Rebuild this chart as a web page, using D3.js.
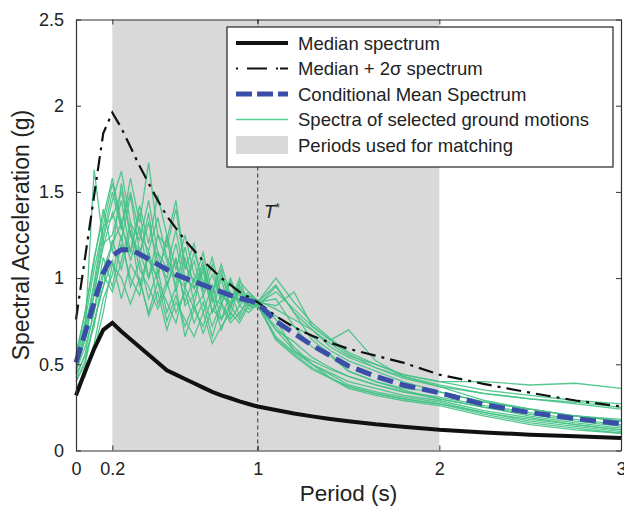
<!DOCTYPE html>
<html>
<head>
<meta charset="utf-8">
<script src="https://cdn.jsdelivr.net/npm/d3@7"></script>
<style>
  body { margin: 0; background: #fff; }
  svg text { font-family: "Liberation Sans", Arial, Helvetica, sans-serif; fill: #222; }
</style>
</head>
<body>
<div id="chart"></div>
<script>
// periods (s) shared by every curve
var periods = [0, 0.05, 0.1, 0.15, 0.2, 0.25, 0.3, 0.35, 0.4, 0.45, 0.5, 0.55, 0.6, 0.65, 0.7, 0.75,
               0.8, 0.85, 0.9, 0.95, 1.0, 1.1, 1.2, 1.3, 1.4, 1.5, 1.65, 1.8, 2.0, 2.25, 2.5, 2.75, 3.0];

var median = [0.32, 0.46, 0.59, 0.70, 0.74, 0.69, 0.645, 0.60, 0.555, 0.51, 0.465, 0.44, 0.415, 0.39, 0.365, 0.34,
              0.32, 0.303, 0.285, 0.27, 0.255, 0.235, 0.215, 0.198, 0.183, 0.17, 0.152, 0.138, 0.12, 0.105, 0.092, 0.082, 0.073];

var median2s = [0.76, 1.12, 1.48, 1.84, 1.96, 1.87, 1.76, 1.65, 1.55, 1.45, 1.36, 1.29, 1.22, 1.16, 1.10, 1.05,
                1.00, 0.96, 0.92, 0.89, 0.86, 0.78, 0.715, 0.665, 0.625, 0.59, 0.55, 0.51, 0.44, 0.385, 0.335, 0.29, 0.255];

var cms = [0.51, 0.68, 0.86, 1.03, 1.13, 1.165, 1.165, 1.14, 1.11, 1.08, 1.05, 1.02, 1.00, 0.98, 0.96, 0.94,
           0.92, 0.90, 0.885, 0.87, 0.855, 0.75, 0.68, 0.61, 0.55, 0.49, 0.43, 0.38, 0.335, 0.265, 0.22, 0.185, 0.155];

// spectra of the selected ground motions
var records = [
  [0.45,0.70,1.63,1.20,1.25,1.45,1.15,1.38,1.10,1.00,1.25,0.92,1.12,0.85,1.08,0.80,1.00,0.78,0.96,0.86,0.86,0.88,0.72,0.60,0.55,0.46,0.40,0.36,0.34,0.28,0.24,0.20,0.18],
  [0.52,0.72,0.95,1.25,1.50,1.28,1.58,1.32,1.67,1.25,1.18,1.40,1.05,1.20,0.92,1.08,0.85,0.98,0.90,0.82,0.85,0.70,0.63,0.54,0.48,0.43,0.38,0.34,0.31,0.26,0.22,0.18,0.15],
  [0.40,0.52,0.75,0.95,1.10,0.88,1.08,0.98,0.80,0.98,0.75,0.90,0.72,0.85,0.68,0.82,0.76,0.92,0.78,0.90,0.84,0.95,0.80,0.70,0.62,0.55,0.50,0.44,0.40,0.35,0.32,0.29,0.27],
  [0.55,0.80,1.10,1.40,1.15,1.55,1.25,1.12,1.38,1.02,1.22,1.45,1.08,0.98,1.15,0.90,1.05,0.82,0.98,0.92,0.87,0.76,0.58,0.50,0.45,0.40,0.36,0.32,0.29,0.23,0.19,0.15,0.12],
  [0.36,0.45,0.62,0.88,1.02,1.25,0.95,1.10,0.88,1.05,0.80,0.95,0.66,0.82,0.90,0.72,0.86,0.76,0.84,0.80,0.85,0.66,0.57,0.50,0.44,0.38,0.34,0.31,0.28,0.22,0.17,0.14,0.11],
  [0.48,0.66,0.92,1.18,1.38,1.22,1.48,1.15,1.32,1.10,1.00,1.20,0.95,1.10,0.90,1.02,0.88,1.00,0.86,0.92,0.86,1.00,0.86,0.74,0.65,0.57,0.50,0.44,0.40,0.40,0.38,0.39,0.36],
  [0.42,0.56,0.82,1.12,0.95,1.20,1.00,0.90,1.15,0.85,0.98,0.80,0.92,0.74,0.86,0.66,0.84,0.74,0.80,0.87,0.84,0.65,0.56,0.48,0.42,0.37,0.33,0.30,0.27,0.21,0.16,0.13,0.10],
  [0.50,0.68,0.98,1.30,1.55,1.30,1.15,1.42,1.20,1.48,1.25,1.05,1.25,1.02,0.96,1.12,0.90,0.86,1.00,0.84,0.86,0.84,0.92,0.72,0.64,0.70,0.52,0.43,0.37,0.29,0.24,0.20,0.17],
  [0.35,0.43,0.58,0.80,1.08,1.00,0.85,1.00,0.78,0.92,0.70,0.86,0.76,0.66,0.80,0.62,0.72,0.80,0.74,0.84,0.83,0.72,0.60,0.50,0.42,0.36,0.32,0.29,0.26,0.20,0.15,0.12,0.10],
  [0.53,0.75,1.05,1.30,1.35,1.50,1.25,1.15,1.00,1.25,1.10,0.96,1.18,0.94,1.06,0.88,0.85,0.98,0.84,0.90,0.85,0.92,0.82,0.72,0.64,0.56,0.48,0.42,0.37,0.33,0.30,0.27,0.24],
  [0.44,0.55,0.72,1.02,0.92,1.10,1.32,1.05,0.95,0.82,0.95,1.10,0.86,1.00,0.80,0.96,0.76,0.85,0.92,0.84,0.86,0.78,0.72,0.66,0.58,0.52,0.46,0.40,0.34,0.28,0.24,0.20,0.17],
  [0.47,0.64,0.90,1.22,1.45,1.62,1.32,1.22,1.45,1.15,1.06,1.28,1.00,0.94,1.10,0.86,1.02,0.90,0.86,0.88,0.86,0.96,0.80,0.64,0.56,0.46,0.40,0.35,0.30,0.25,0.21,0.17,0.14],
  [0.40,0.50,0.75,0.95,1.22,1.05,1.28,0.95,1.15,0.98,0.86,0.74,0.95,0.82,0.72,0.90,0.70,0.84,0.76,0.86,0.85,0.70,0.58,0.52,0.47,0.43,0.38,0.34,0.30,0.25,0.20,0.16,0.13],
  [0.56,0.80,1.12,1.35,1.58,1.32,1.50,1.25,1.16,1.35,1.12,1.00,0.95,1.15,0.98,0.92,1.08,0.90,0.88,0.90,0.87,0.82,0.76,0.70,0.60,0.54,0.48,0.43,0.38,0.33,0.30,0.28,0.25],
  [0.46,0.60,0.80,1.05,1.20,1.32,1.10,1.30,1.00,1.15,0.96,1.12,0.84,0.90,1.04,0.80,0.90,0.84,0.94,0.84,0.85,0.64,0.55,0.47,0.42,0.37,0.33,0.30,0.27,0.22,0.18,0.15,0.12]
];

var matchRange = [0.2, 2];   // periods used for matching
var tStar = 1;
var xTicks = [0, 0.2, 1, 2, 3];
var yTicks = [0, 0.5, 1, 1.5, 2, 2.5];
var legendLabels = ["Median spectrum", "Median + 2\u03c3 spectrum", "Conditional Mean Spectrum",
                    "Spectra of selected ground motions", "Periods used for matching"];

var W = 624, H = 507;
var margin = {top: 19.5, right: 3, bottom: 56.5, left: 76};
var w = W - margin.left - margin.right;
var h = H - margin.top - margin.bottom;

var svg = d3.select("#chart").append("svg")
    .attr("width", W).attr("height", H);

var g = svg.append("g")
    .attr("transform", "translate(" + margin.left + "," + margin.top + ")");

var x = d3.scaleLinear().domain([0, 3]).range([0, w]);
var y = d3.scaleLinear().domain([0, 2.5]).range([h, 0]);

// grey band for the matching periods
g.append("rect")
    .attr("x", x(matchRange[0])).attr("y", 0)
    .attr("width", x(matchRange[1]) - x(matchRange[0]))
    .attr("height", h)
    .attr("fill", "#d9d9d9");

// T* marker
g.append("line")
    .attr("x1", x(tStar)).attr("x2", x(tStar))
    .attr("y1", 0).attr("y2", h)
    .attr("stroke", "#555").attr("stroke-width", 1.3)
    .attr("stroke-dasharray", "4,3");

var tl = g.append("text")
    .attr("x", x(tStar) + 6).attr("y", y(1.35))
    .attr("font-size", 19).attr("font-style", "italic");
tl.append("tspan").text("T");
tl.append("tspan").attr("dy", -6).attr("font-size", 12).attr("font-style", "normal").text("*");

var line = d3.line()
    .x(function(d, i) { return x(periods[i]); })
    .y(function(d) { return y(d); });

g.selectAll(".rec")
    .data(records)
    .enter()
    .append("path")
    .attr("class", "rec")
    .attr("d", line)
    .attr("fill", "none")
    .attr("stroke", "#44c285")
    .attr("stroke-opacity", 0.9)
    .attr("stroke-width", 1.3);

g.append("path").datum(median)
    .attr("d", line).attr("fill", "none")
    .attr("stroke", "#111").attr("stroke-width", 4);

g.append("path").datum(median2s)
    .attr("d", line).attr("fill", "none")
    .attr("stroke", "#111").attr("stroke-width", 2.2)
    .attr("stroke-dasharray", "15,6,3,6");

g.append("path").datum(cms)
    .attr("d", line).attr("fill", "none")
    .attr("stroke", "#3a4ea8").attr("stroke-width", 5)
    .attr("stroke-dasharray", "16,7");

// axes, MATLAB style box with inward ticks
var fmt = function(d) { return d3.format("")(d); };
g.append("g").attr("transform", "translate(0," + h + ")")
    .call(d3.axisBottom(x).tickValues(xTicks).tickSizeInner(-5).tickSizeOuter(0).tickPadding(12).tickFormat(fmt));
g.append("g")
    .call(d3.axisTop(x).tickValues(xTicks).tickSizeInner(-5).tickSizeOuter(0).tickFormat(""));
g.append("g")
    .call(d3.axisLeft(y).tickValues(yTicks).tickSizeInner(-5).tickSizeOuter(0).tickPadding(12).tickFormat(fmt));
g.append("g").attr("transform", "translate(" + w + ",0)")
    .call(d3.axisRight(y).tickValues(yTicks).tickSizeInner(-5).tickSizeOuter(0).tickFormat(""));

g.selectAll(".domain").attr("stroke", "#333").attr("stroke-width", 1.2);
g.selectAll(".tick line").attr("stroke", "#333");
g.selectAll(".tick text").attr("font-size", 18).attr("fill", "#222")
    .attr("font-family", "Liberation Sans, Arial, sans-serif");

svg.append("text")
    .attr("x", margin.left + w / 2).attr("y", 501)
    .attr("text-anchor", "middle").attr("font-size", 22.5)
    .text("Period (s)");

svg.append("text")
    .attr("transform", "translate(29," + (margin.top + h / 2) + ") rotate(-90)")
    .attr("text-anchor", "middle").attr("font-size", 23)
    .text("Spectral Acceleration (g)");

// legend
var lg = svg.append("g").attr("transform", "translate(227,27)");
lg.append("rect")
    .attr("width", 386).attr("height", 140)
    .attr("fill", "#fff").attr("stroke", "#222").attr("stroke-width", 1.2);

var rowY = d3.scalePoint().domain(d3.range(5)).range([16, 118]);
var styles = [
  {stroke: "#111", width: 4, dash: null},
  {stroke: "#111", width: 2.2, dash: "2,9,20,9,2"},
  {stroke: "#3a4ea8", width: 5, dash: "16,5"},
  {stroke: "#55cf95", width: 1.5, dash: null}
];
styles.forEach(function(s, i) {
  lg.append("line")
    .attr("x1", 9).attr("x2", 61)
    .attr("y1", rowY(i)).attr("y2", rowY(i))
    .attr("stroke", s.stroke).attr("stroke-width", s.width)
    .attr("stroke-dasharray", s.dash);
});
lg.append("rect")
    .attr("x", 9).attr("y", rowY(4) - 9)
    .attr("width", 52).attr("height", 18)
    .attr("fill", "#d9d9d9");

lg.selectAll(".lt")
    .data(legendLabels)
    .enter()
    .append("text")
    .attr("class", "lt")
    .attr("x", 71)
    .attr("y", function(d, i) { return rowY(i) + 6.5; })
    .attr("font-size", 18.5)
    .text(function(d) { return d; });
</script>
</body>
</html>
